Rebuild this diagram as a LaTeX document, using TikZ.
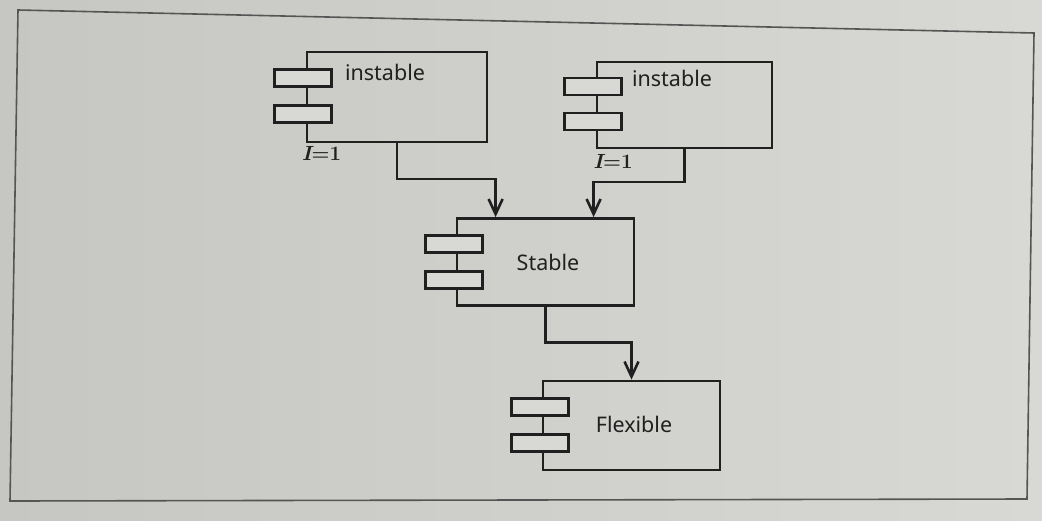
\documentclass[tikz,border=0pt]{standalone}
\usepackage{fontspec}
\setmainfont{Noto Sans}
\newfontfamily\lmfont{Latin Modern Roman}
\usetikzlibrary{arrows.meta,calc}
\definecolor{ink}{HTML}{202020}
\definecolor{paper}{HTML}{D8D8D4}
\definecolor{paperdark}{HTML}{C6C6C2}
\definecolor{framec}{HTML}{555555}
\begin{document}
\begin{tikzpicture}[x=1pt,y=-1pt,
  comp/.style={draw=ink, line width=2.8pt, inner sep=0pt},
  port/.style={draw=ink, fill=paper, line width=2.8pt, inner sep=0pt,
               minimum width=57pt, minimum height=17pt},
  lbl/.style={font=\fontsize{21.5}{24}\selectfont, text=ink, inner sep=0pt},
  mult/.style={font=\lmfont\fontsize{20.5}{23}\selectfont\bfseries, text=ink, inner sep=0pt},
  conn/.style={draw=ink, line width=2.6pt,
               -{Straight Barb[length=15pt,width=14pt,line width=2.6pt]}},
  framebox/.style={draw=framec, line width=1.6pt}]
\useasboundingbox (0,0) rectangle (1042,520);
\shade[left color=paperdark, right color=paper] (0,0) rectangle (1042,520);
\draw[framebox] (18,10) -- (1034,33) -- (1027,499) -- (10,501) -- cycle;

% components
\node[comp, minimum width=180pt, minimum height=90pt] (i1) at (397,97) {};
\node[comp, minimum width=175pt, minimum height=86pt] (i2) at (684.5,105) {};
\node[comp, minimum width=177pt, minimum height=87pt] (st) at (545.5,262) {};
\node[comp, minimum width=177pt, minimum height=89pt] (fl) at (631.5,425.5) {};

% ports
\node[port] (i1a) at (303,78) {};
\node[port] (i1b) at (303,114) {};
\node[port] (i2a) at (593,86.5) {};
\node[port] (i2b) at (593,121.5) {};
\node[port] (sta) at (454,244) {};
\node[port] (stb) at (454,280) {};
\node[port] (fla) at (540,407) {};
\node[port] (flb) at (540,443) {};

% labels
\node[lbl] (li1) at (385,72) {instable};
\node[lbl] (li2) at (672,78) {instable};
\node[lbl] (lst) at (548,262) {Stable};
\node[lbl] (lfl) at (634,424) {Flexible};
\node[mult] (m1) at (321.5,153.5) {{\itshape I}=1};
\node[mult] (m2) at (613,161) {{\itshape I}=1};

% connectors
\coordinate (t1) at ($(st.north west)+(40,0)$);
\coordinate (t2) at ($(st.north west)+(138,0)$);
\draw[conn] (i1.south) |- ($(t1)+(0,-38)$) -- (t1);
\draw[conn] (i2.south) |- ($(t2)+(0,-35)$) -- (t2);
\draw[conn] (st.south) |- ($(fl.north)+(0,-37)$) -- (fl.north);
\end{tikzpicture}
\end{document}
